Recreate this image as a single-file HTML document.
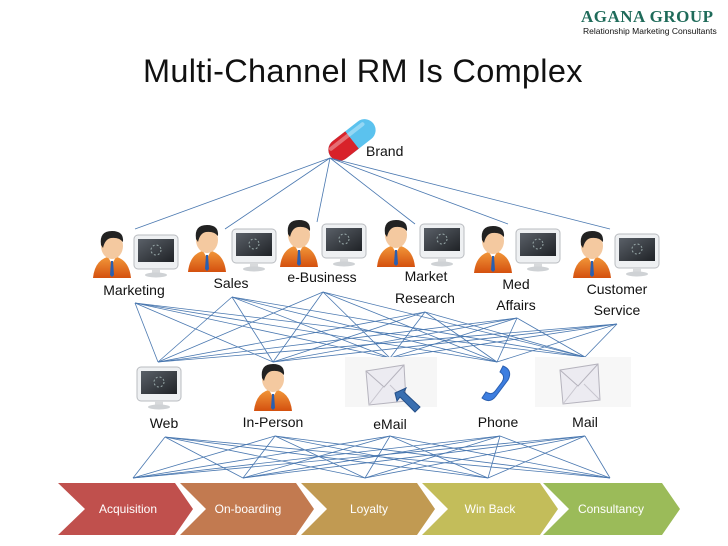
<!DOCTYPE html>
<html><head><meta charset="utf-8"><style>
html,body{margin:0;padding:0;background:#fff;}
body{width:728px;height:546px;overflow:hidden;position:relative;font-family:"Liberation Sans",sans-serif;}
</style></head><body>
<svg width="728" height="546" viewBox="0 0 728 546" xmlns="http://www.w3.org/2000/svg" style="position:absolute;left:0;top:0">
<defs>
<linearGradient id="bodyg" x1="0" y1="0" x2="0" y2="1"><stop offset="0" stop-color="#f39a3c"/><stop offset="1" stop-color="#d4500e"/></linearGradient>
<linearGradient id="scr" x1="0" y1="0" x2="1" y2="1"><stop offset="0" stop-color="#5a6068"/><stop offset="1" stop-color="#1f2226"/></linearGradient>
<g id="person">
<path d="M0 48 Q2 28 19 26 Q36 28 38 48 Z" fill="url(#bodyg)"/>
<path d="M15 27 L19 34 L23 27 Z" fill="#fff"/>
<path d="M18 31 L20 31 L21 45 L19 47 L17 45 Z" fill="#2a5fb0"/>
<ellipse cx="19" cy="16" rx="11" ry="13" fill="#f4c9a0"/>
<path d="M8 15 Q6 1 19 1 Q31 1 30 12 Q26 7 18 8 Q12 9 10 18 Z" fill="#222"/>
</g>
<g id="monitor">
<rect x="0" y="0" width="44" height="34" rx="4" fill="#eef0f2" stroke="#b9bcc0" stroke-width="1"/>
<rect x="4" y="4" width="36" height="23" fill="url(#scr)"/>
<circle cx="22" cy="15" r="5" fill="none" stroke="#9aa" stroke-dasharray="2 2"/>
<rect x="18" y="34" width="8" height="5" fill="#d8dadc"/>
<ellipse cx="22" cy="40" rx="11" ry="2.5" fill="#cfd2d5"/>
</g>
<g id="env">
<path d="M0 6 L38 0 L40 36 L3 40 Z" fill="#ecebf1" stroke="#b5b3bd"/>
<path d="M0 6 L18 22 L38 0" fill="none" stroke="#b5b3bd"/>
<path d="M3 40 L17 22 M40 36 L24 20" fill="none" stroke="#c8c6cf"/>
</g>
</defs>

<text x="143" y="82" font-family="Liberation Sans, sans-serif" font-size="32.5" fill="#111" letter-spacing="0.3">Multi-Channel RM Is Complex</text>
<text x="581" y="22" font-family="Liberation Serif, serif" font-weight="bold" font-size="17" fill="#1f6b5a" letter-spacing="0.5">AGANA GROUP</text>
<text x="583" y="34" font-size="8.5" fill="#111">Relationship Marketing Consultants</text>

<g transform="translate(352,140) rotate(-38)">
<rect x="-27" y="-11" width="54" height="22" rx="11" fill="#5bc2ee"/>
<path d="M0 -11 L-16 -11 A11 11 0 0 0 -16 11 L0 11 Z" fill="#d8222a"/>
<rect x="-24" y="-8" width="44" height="4" rx="2" fill="#fff" opacity="0.35"/>
</g>
<text x="366" y="156" font-size="14" fill="#111">Brand</text>

<g stroke="#4a78b0" stroke-width="0.8" fill="none" id="lines"></g>

<use href="#person" x="93" y="230"/><use href="#monitor" x="134" y="235"/>
<use href="#person" x="188" y="224"/><use href="#monitor" x="232" y="229"/>
<use href="#person" x="280" y="219"/><use href="#monitor" x="322" y="224"/>
<use href="#person" x="377" y="219"/><use href="#monitor" x="420" y="224"/>
<use href="#person" x="474" y="225"/><use href="#monitor" x="516" y="229"/>
<use href="#person" x="573" y="230"/><use href="#monitor" x="615" y="234"/>
<g font-size="14" fill="#111" text-anchor="middle">
<text x="134" y="295">Marketing</text>
<text x="231" y="288">Sales</text>
<text x="322" y="282">e-Business</text>
<text x="426" y="281">Market</text><text x="425" y="303">Research</text>
<text x="516" y="289">Med</text><text x="516" y="310">Affairs</text>
<text x="617" y="294">Customer</text><text x="617" y="315">Service</text>
</g>

<use href="#monitor" x="137" y="367"/>
<use href="#person" x="254" y="363"/>
<rect x="345" y="357" width="92" height="50" fill="#f6f6f6"/>
<use href="#env" x="366" y="365"/>
<path d="M395 393 L406 388 L404 392 L420 407 L415 412 L400 397 L397 401 Z" fill="#3a6fb0" stroke="#244f88"/>
<path d="M503 366 Q513 370 508 380 L496 396 Q490 404 482 398 L486 392 Q492 396 496 390 L502 382 Q506 376 500 372 Z" fill="#3d7ee0" stroke="#2a5fb0"/>
<rect x="535" y="357" width="96" height="50" fill="#f7f7f7"/>
<use href="#env" x="560" y="364"/>
<g font-size="14" fill="#111" text-anchor="middle">
<text x="164" y="428">Web</text>
<text x="273" y="427">In-Person</text>
<text x="390" y="429">eMail</text>
<text x="498" y="427">Phone</text>
<text x="585" y="427">Mail</text>
</g>

<g font-size="12" fill="#fff" text-anchor="middle">
<path d="M58 483 L175 483 L193 509 L175 535 L58 535 L85 509 Z" fill="#c0504d"/>
<path d="M180 483 L296 483 L314 509 L296 535 L180 535 L206 509 Z" fill="#c27a50"/>
<path d="M301 483 L417 483 L435 509 L417 535 L301 535 L327 509 Z" fill="#c19a52"/>
<path d="M422 483 L540 483 L558 509 L540 535 L422 535 L448 509 Z" fill="#c3bd5a"/>
<path d="M543 483 L662 483 L680 509 L662 535 L543 535 L569 509 Z" fill="#9bbb59"/>
<text x="128" y="513">Acquisition</text>
<text x="248" y="513">On-boarding</text>
<text x="369" y="513">Loyalty</text>
<text x="490" y="513">Win Back</text>
<text x="611" y="513">Consultancy</text>
</g>
</svg>
<script>
var g=document.getElementById('lines');
function L(a,b){var l=document.createElementNS('http://www.w3.org/2000/svg','line');l.setAttribute('x1',a[0]);l.setAttribute('y1',a[1]);l.setAttribute('x2',b[0]);l.setAttribute('y2',b[1]);g.appendChild(l);}
var brand=[330,158];
var dt=[[135,229],[225,229],[317,222],[415,224],[508,224],[610,229]];
dt.forEach(function(p){L(brand,p)});
var db=[[135,303],[232,297],[323,292],[425,312],[517,318],[617,324]];
var ct=[[158,362],[273,362],[390,358],[497,362],[585,357]];
db.forEach(function(a){ct.forEach(function(b){L(a,b)})});
var cb=[[165,437],[275,436],[390,436],[500,436],[585,436]];
var vt=[[133,478],[243,478],[365,478],[488,478],[610,478]];
cb.forEach(function(a){vt.forEach(function(b){L(a,b)})});
</script>
</body></html>
